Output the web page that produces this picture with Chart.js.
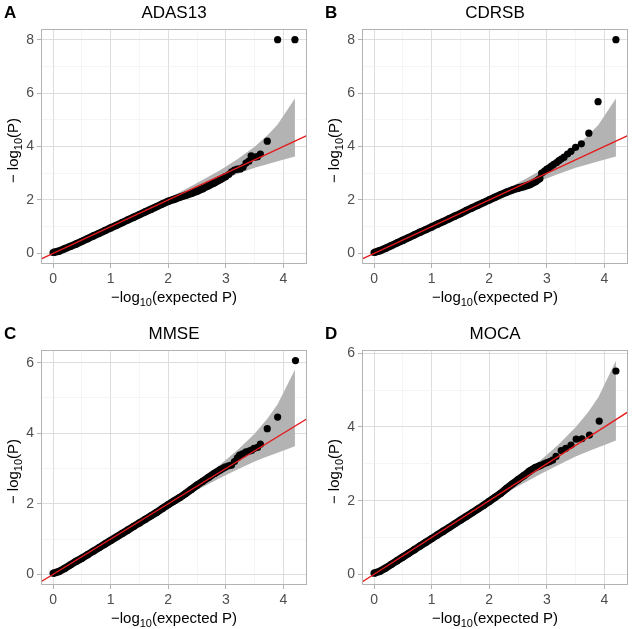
<!DOCTYPE html>
<html>
<head>
<meta charset="utf-8">
<script src="https://cdn.jsdelivr.net/npm/chart.js@4.4.0/dist/chart.umd.min.js"></script>
<style>
  body { margin: 0; background: #fff; width: 633px; height: 629px; position: relative; overflow: hidden; }
  canvas { position: absolute; }
</style>
</head>
<body>
<canvas id="panelA" width="312" height="308" style="left:0;top:0"></canvas>
<canvas id="panelB" width="312" height="308" style="left:321px;top:0"></canvas>
<canvas id="panelC" width="312" height="308" style="left:0;top:321px"></canvas>
<canvas id="panelD" width="312" height="308" style="left:321px;top:321px"></canvas>
<script>
// axis ticks
const xTicks = [0, 1, 2, 3, 4];
const xMinor = [0.5, 1.5, 2.5, 3.5];
const yTicksTop = [0, 2, 4, 6, 8];
const yMinorTop = [1, 3, 5, 7];
const yTicksBottom = [0, 2, 4, 6];
const yMinorBottom = [1, 3, 5];

// 95% confidence band (same for every panel)
const ciExpected = [0, 0.5, 1.0, 1.5, 2.0, 2.2, 2.5, 2.9, 3.2, 3.5, 3.72, 3.9, 4.2];
const ciUpper    = [0.01, 0.51, 1.02, 1.54, 2.07, 2.29, 2.63, 3.11, 3.52, 3.99, 4.41, 4.82, 5.8];
const ciLower    = [0, 0.49, 0.98, 1.46, 1.94, 2.12, 2.39, 2.73, 2.97, 3.2, 3.34, 3.45, 3.63];

// y = x reference line
const refLine = [-1, 5];

// ADAS13
const adasBulkExp = [0,0.1,0.2,0.3,0.4,0.5,0.6,0.7,0.8,0.9,1.0,1.1,1.2,1.3,1.4,1.5,1.6,1.7,1.8,1.9,2.0,2.1,2.2,2.3,2.4,2.5,2.6,2.7,2.8,2.9,3.0];
const adasBulkObs = [0.03,0.08,0.17,0.26,0.35,0.45,0.55,0.65,0.75,0.85,0.95,1.05,1.15,1.25,1.35,1.45,1.55,1.65,1.75,1.85,1.95,2.02,2.1,2.17,2.24,2.32,2.42,2.53,2.64,2.76,2.88];
const adasTailExp = [3.05,3.1,3.15,3.2,3.25,3.3,3.35,3.4,3.44,3.5,3.55,3.6,3.72,3.9,4.2];
const adasTailObs = [2.95,3.05,3.12,3.15,3.16,3.22,3.38,3.45,3.65,3.6,3.62,3.72,4.2,8.0,8.0];

// CDRSB
const cdrBulkExp = [0,0.1,0.2,0.3,0.4,0.5,0.6,0.7,0.8,0.9,1.0,1.1,1.2,1.3,1.4,1.5,1.6,1.7,1.8,1.9,2.0,2.1,2.2,2.3,2.4,2.5,2.6,2.7,2.8,2.88];
const cdrBulkObs = [0.03,0.1,0.19,0.29,0.39,0.49,0.59,0.69,0.79,0.89,0.99,1.09,1.19,1.29,1.39,1.49,1.6,1.7,1.8,1.9,2.0,2.1,2.2,2.29,2.37,2.44,2.5,2.57,2.68,2.8];
const cdrTailExp = [2.91,2.96,3.0,3.04,3.08,3.12,3.17,3.21,3.25,3.3,3.36,3.42,3.5,3.6,3.73,3.89,4.2];
const cdrTailObs = [3.0,3.08,3.15,3.2,3.27,3.33,3.4,3.47,3.53,3.6,3.72,3.82,3.97,4.1,4.5,5.68,8.0];

// MMSE
const mmseBulkExp = [0,0.1,0.2,0.3,0.4,0.5,0.6,0.7,0.8,0.9,1.0,1.1,1.2,1.3,1.4,1.5,1.6,1.7,1.8,1.9,2.0,2.1,2.2,2.3,2.4,2.5,2.6,2.7,2.8,2.9,3.0];
const mmseBulkObs = [0.03,0.08,0.17,0.27,0.37,0.46,0.56,0.66,0.76,0.86,0.96,1.06,1.16,1.26,1.36,1.46,1.56,1.66,1.76,1.87,1.98,2.08,2.18,2.29,2.41,2.53,2.64,2.75,2.86,2.96,3.05];
const mmseTailExp = [3.05,3.1,3.15,3.2,3.24,3.29,3.35,3.41,3.45,3.49,3.55,3.6,3.72,3.9,4.21];
const mmseTailObs = [3.08,3.1,3.2,3.3,3.38,3.42,3.47,3.5,3.52,3.57,3.6,3.69,4.13,4.46,6.06];

// MOCA
const mocaBulkExp = [0,0.1,0.2,0.3,0.4,0.5,0.6,0.7,0.8,0.9,1.0,1.1,1.2,1.3,1.4,1.5,1.6,1.7,1.8,1.9,2.0,2.1,2.2,2.3,2.4,2.5,2.6,2.7,2.8,2.9];
const mocaBulkObs = [0.03,0.08,0.17,0.27,0.37,0.47,0.57,0.67,0.77,0.87,0.97,1.07,1.17,1.27,1.37,1.47,1.57,1.67,1.77,1.87,1.98,2.09,2.2,2.33,2.45,2.57,2.68,2.8,2.9,2.96];
const mocaTailExp = [2.95,3.0,3.05,3.1,3.16,3.25,3.33,3.42,3.51,3.61,3.74,3.91,4.2];
const mocaTailObs = [3.0,3.03,3.06,3.1,3.2,3.36,3.42,3.51,3.67,3.68,3.78,4.16,5.52];

const FONT = '"Liberation Sans", Arial, Helvetica, sans-serif';

function pairs(xs, ys) {
  return xs.map((x, i) => ({ x: x, y: ys[i] }));
}

// text with a subscript "10", centred on cx
function drawSubText(ctx, parts, cx, y) {
  const main = '15px ' + FONT, sub = '11px ' + FONT;
  ctx.font = main; const w0 = ctx.measureText(parts[0]).width;
  ctx.font = sub;  const w1 = ctx.measureText(parts[1]).width;
  ctx.font = main; const w2 = ctx.measureText(parts[2]).width;
  let x = cx - (w0 + w1 + w2) / 2;
  ctx.textAlign = 'left';
  ctx.font = main; ctx.fillText(parts[0], x, y); x += w0;
  ctx.font = sub;  ctx.fillText(parts[1], x, y + 4); x += w1;
  ctx.font = main; ctx.fillText(parts[2], x, y);
}

const panelText = {
  id: 'panelText',
  afterDatasetsDraw(chart) {
    const { ctx, chartArea: a } = chart;
    ctx.save();
    ctx.strokeStyle = '#b3b3b3';
    ctx.lineWidth = 1;
    ctx.strokeRect(a.left + 0.5, a.top + 0.5, a.right - a.left - 1, a.bottom - a.top - 1);
    ctx.restore();
  },
  afterDraw(chart, args, opts) {
    const { ctx, chartArea: a } = chart;
    const cx = (a.left + a.right) / 2;
    ctx.save();
    ctx.fillStyle = '#000';
    ctx.textBaseline = 'alphabetic';
    ctx.textAlign = 'left';
    ctx.font = 'bold 17px ' + FONT;
    ctx.fillText(opts.letter, 4, 18);
    ctx.textAlign = 'center';
    ctx.font = '17px ' + FONT;
    ctx.fillText(opts.title, cx, 18);
    drawSubText(ctx, ['\u2212log', '10', '(expected P)'], cx, 302);
    ctx.translate(17.5, (a.top + a.bottom) / 2 + 4);
    ctx.rotate(-Math.PI / 2);
    drawSubText(ctx, ['\u2212 log', '10', '(P)'], 0, 0);
    ctx.restore();
  }
};

function makePanel(id, letter, title, bulkExp, bulkObs, tailExp, tailObs, yMin, yMax, yMajor, yMinor) {
  const xAll = xTicks.concat(xMinor);
  const yAll = yMajor.concat(yMinor);
  const gridStyle = (major) => ({
    color: c => major.includes(c.tick.value) ? '#dedede' : '#efefef',
    lineWidth: c => major.includes(c.tick.value) ? 1 : 0.6,
    tickColor: c => major.includes(c.tick.value) ? '#b3b3b3' : 'rgba(0,0,0,0)',
    tickLength: 4,
    drawTicks: true
  });
  return new Chart(document.getElementById(id), {
    type: 'scatter',
    data: {
      datasets: [
        {
          label: 'y = x',
          data: pairs(refLine, refLine),
          showLine: true,
          borderColor: '#e41a1c',
          borderWidth: 1.3,
          pointRadius: 0,
          clip: 0,
          order: 0
        },
        {
          label: 'observed',
          data: pairs(bulkExp, bulkObs),
          showLine: true,
          borderColor: '#000',
          borderWidth: 7.5,
          backgroundColor: '#000',
          pointRadius: 3.6,
          pointBorderWidth: 0,
          order: 1
        },
        {
          label: 'observed tail',
          data: pairs(tailExp, tailObs),
          showLine: false,
          backgroundColor: '#000',
          pointRadius: 3.6,
          pointBorderWidth: 0,
          order: 1
        },
        {
          label: 'CI upper',
          data: pairs(ciExpected, ciUpper),
          showLine: true,
          borderWidth: 0,
          pointRadius: 0,
          backgroundColor: '#b3b3b3',
          fill: '+1',
          order: 2
        },
        {
          label: 'CI lower',
          data: pairs(ciExpected, ciLower),
          showLine: true,
          borderWidth: 0,
          pointRadius: 0,
          order: 2
        }
      ]
    },
    options: {
      responsive: false,
      animation: false,
      events: [],
      layout: { padding: { top: 29, right: 5, left: 0, bottom: 0 } },
      plugins: {
        legend: { display: false },
        tooltip: { enabled: false },
        panelText: { letter: letter, title: title }
      },
      scales: {
        x: {
          type: 'linear',
          min: -0.21,
          max: 4.41,
          afterBuildTicks: s => { s.ticks = xAll.slice().sort((p, q) => p - q).map(v => ({ value: v })); },
          afterFit: s => { s.height = 44; },
          grid: gridStyle(xTicks),
          border: { display: false },
          ticks: {
            autoSkip: false,
            maxRotation: 0,
            padding: 3,
            color: '#4d4d4d',
            font: { family: FONT, size: 14 },
            callback: v => xTicks.includes(v) ? String(v) : ''
          }
        },
        y: {
          type: 'linear',
          min: yMin,
          max: yMax,
          afterBuildTicks: s => { s.ticks = yAll.slice().sort((p, q) => p - q).map(v => ({ value: v })); },
          afterFit: s => { s.width = 41; },
          grid: gridStyle(yMajor),
          border: { display: false },
          ticks: {
            autoSkip: false,
            padding: 3,
            color: '#4d4d4d',
            font: { family: FONT, size: 14 },
            callback: v => yMajor.includes(v) ? String(v) : ''
          }
        }
      }
    },
    plugins: [panelText]
  });
}

makePanel('panelA', 'A', 'ADAS13', adasBulkExp, adasBulkObs, adasTailExp, adasTailObs, -0.4, 8.4, yTicksTop, yMinorTop);
makePanel('panelB', 'B', 'CDRSB', cdrBulkExp, cdrBulkObs, cdrTailExp, cdrTailObs, -0.4, 8.4, yTicksTop, yMinorTop);
makePanel('panelC', 'C', 'MMSE', mmseBulkExp, mmseBulkObs, mmseTailExp, mmseTailObs, -0.3, 6.36, yTicksBottom, yMinorBottom);
makePanel('panelD', 'D', 'MOCA', mocaBulkExp, mocaBulkObs, mocaTailExp, mocaTailObs, -0.29, 6.09, yTicksBottom, yMinorBottom);
</script>
</body>
</html>
